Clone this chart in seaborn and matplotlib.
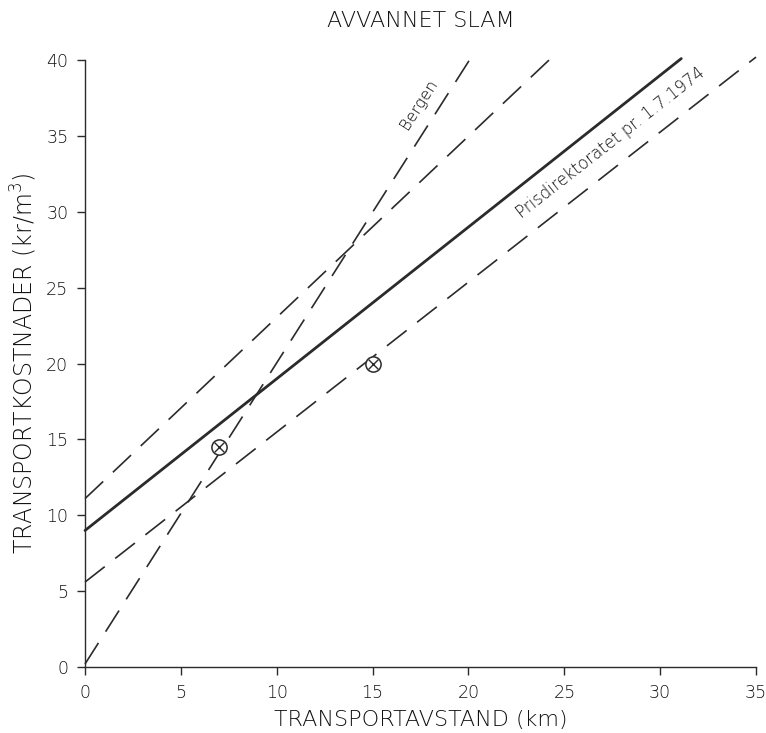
import matplotlib
matplotlib.use("Agg")

import matplotlib.pyplot as plt
import pandas as pd
import seaborn as sns

# line end points (km, kr/m3)
solid_x = [0.0, 31.1]
solid_y = [9.0, 40.1]
upper_x = [0.0, 24.2]
upper_y = [11.1, 40.0]
bergen_x = [0.0, 20.1]
bergen_y = [0.2, 40.1]
pris_x = [0.0, 35.0]
pris_y = [5.6, 40.2]
point_x = [7.0, 15.0]
point_y = [14.5, 20.0]

x_ticks = [0, 5, 10, 15, 20, 25, 30, 35]
y_ticks = [0, 5, 10, 15, 20, 25, 30, 35, 40]

INK = "#2b2b2b"
TXT = "#111111"

sns.set_theme(style="ticks")
plt.rcParams["font.family"] = ["DejaVu Sans"]
plt.rcParams["font.weight"] = "light"

fig = plt.figure(figsize=(7.66, 7.33), dpi=100)
ax = fig.add_axes([0.111, 0.09, 0.876, 0.828])

dash = (0, (15, 8))
sns.lineplot(x=solid_x, y=solid_y, ax=ax, color=INK, lw=2.0, clip_on=False)
for xs, ys in [(upper_x, upper_y), (bergen_x, bergen_y), (pris_x, pris_y)]:
    sns.lineplot(x=xs, y=ys, ax=ax, color=INK, lw=1.2, linestyle=dash,
                 clip_on=False)

pts = pd.DataFrame({"x": point_x, "y": point_y})
ax.scatter(pts["x"], pts["y"], s=120, facecolors="white", edgecolors=INK,
           linewidths=1.1, zorder=5)
ax.scatter(pts["x"], pts["y"], s=50, marker="x", color=INK, linewidths=1.0,
           zorder=6)

ax.text(17.4, 37.1, "Bergen", rotation=57.5, ha="center", va="center",
        fontsize=11.5, color=TXT)
ax.text(27.4, 34.55, "Prisdirektoratet pr. 1.7.1974", rotation=38,
        ha="center", va="center", fontsize=12, color=TXT)

ax.set_xlim(0, 35)
ax.set_ylim(0, 40)
ax.set_xticks(x_ticks)
ax.set_yticks(y_ticks)
ax.tick_params(axis="both", labelsize=12.5, colors=INK, labelcolor=TXT,
               length=6, width=1.0, pad=6)
for side in ["top", "right"]:
    ax.spines[side].set_visible(False)
for side in ["left", "bottom"]:
    ax.spines[side].set_color(INK)
    ax.spines[side].set_linewidth(1.0)

ax.set_title("AVVANNET SLAM", fontsize=16, color=TXT, pad=24,
             fontweight="light")
ax.set_xlabel("TRANSPORTAVSTAND (km)", fontsize=16, color=TXT, labelpad=6,
              fontweight="light")
ax.set_ylabel("TRANSPORTKOSTNADER (kr/m$^3$)", fontsize=17, color=TXT,
              labelpad=5, fontweight="light")

fig.savefig("out.png", dpi=100)
